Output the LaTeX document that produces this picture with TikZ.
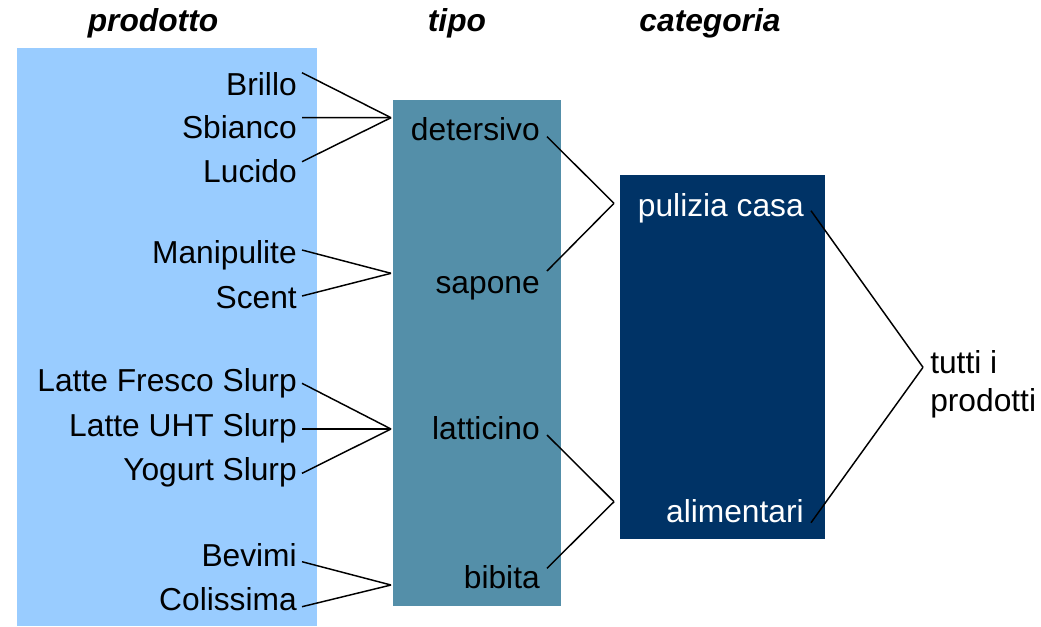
\documentclass[tikz,border=0pt]{standalone}
\usepackage{fontspec}
\setmainfont{Liberation Sans}
\usetikzlibrary{calc}
\definecolor{lblue}{HTML}{99CCFF}
\definecolor{mblue}{HTML}{548FA9}
\definecolor{dblue}{HTML}{003366}
\begin{document}
\begin{tikzpicture}[x=0.75pt,y=-0.75pt,
  lbl/.style={inner sep=0pt,anchor=base east,font=\fontsize{23.8}{28.7}\selectfont},
  hdr/.style={inner sep=0pt,anchor=base,font=\fontsize{23.8}{28.7}\selectfont\bfseries\itshape},
  conn/.style={draw=black,line width=1.1pt}]
\useasboundingbox (0,0) rectangle (1041,626);
% boxes
\fill[lblue] (17,48) rectangle (317,626);
\fill[mblue] (393,100) rectangle (561,606);
\fill[dblue] (620,175) rectangle (825,539);
% headers
\node[hdr] (hp) at (153,31) {prodotto};
\node[hdr] (ht) at (457,31) {tipo};
\node[hdr] (hc) at (710,31) {categoria};
% products
\node[lbl] (brillo) at (297,95) {Brillo};
\node[lbl] (sbianco) at (297,138) {Sbianco};
\node[lbl] (lucido) at (297,182.7) {Lucido};
\node[lbl] (manip) at (297,263) {Manipulite};
\node[lbl] (scent) at (297,308) {Scent};
\node[lbl] (fresco) at (297,391.7) {Latte Fresco Slurp};
\node[lbl] (uht) at (297,436) {Latte UHT Slurp};
\node[lbl] (yogurt) at (297,480) {Yogurt Slurp};
\node[lbl] (bevimi) at (297,566.7) {Bevimi};
\node[lbl] (coliss) at (297,610.7) {Colissima};
% types
\node[lbl] (deters) at (540,140) {detersivo};
\node[lbl] (sapone) at (540,293) {sapone};
\node[lbl] (lattic) at (540,439) {latticino};
\node[lbl] (bibita) at (540,588.3) {bibita};
% categories
\node[lbl,text=white] (pulizia) at (804,216.7) {pulizia casa};
\node[lbl,text=white] (aliment) at (804,522.7) {alimentari};
\node[inner sep=0pt,anchor=base west,align=left,font=\fontsize{23.8}{28.7}\selectfont] (tutti) at (930,411.7) {tutti i\\prodotti};
% junction points
\coordinate (j1) at (391,117.7);
\coordinate (j2) at (391,273.3);
\coordinate (j3) at (391,429);
\coordinate (j4) at (391,585);
\coordinate (k1) at (614,203.3);
\coordinate (k2) at (614,501.7);
\coordinate (m1) at (923,367.3);
% connectors
\draw[conn] ($(brillo.base east)+(5,-22.3)$) -- (j1);
\draw[conn] ($(sbianco.base east)+(5,-20.3)$) -- (j1);
\draw[conn] ($(lucido.base east)+(5,-21)$) -- (j1);
\draw[conn] ($(manip.base east)+(5,-13)$) -- (j2);
\draw[conn] ($(scent.base east)+(5,-12)$) -- (j2);
\draw[conn] ($(fresco.base east)+(5,-8.4)$) -- (j3);
\draw[conn] ($(uht.base east)+(5,-7)$) -- (j3);
\draw[conn] ($(yogurt.base east)+(5,-6.7)$) -- (j3);
\draw[conn] ($(bevimi.base east)+(5,-5)$) -- (j4);
\draw[conn] ($(coliss.base east)+(5,-4)$) -- (j4);
\draw[conn] ($(deters.base east)+(7,-3.3)$) -- (k1);
\draw[conn] ($(sapone.base east)+(7,-22)$) -- (k1);
\draw[conn] ($(lattic.base east)+(7,-4)$) -- (k2);
\draw[conn] ($(bibita.base east)+(7,-20)$) -- (k2);
\draw[conn] ($(pulizia.base east)+(7,-6)$) -- (m1);
\draw[conn] ($(aliment.base east)+(7,0)$) -- (m1);
\end{tikzpicture}
\end{document}
